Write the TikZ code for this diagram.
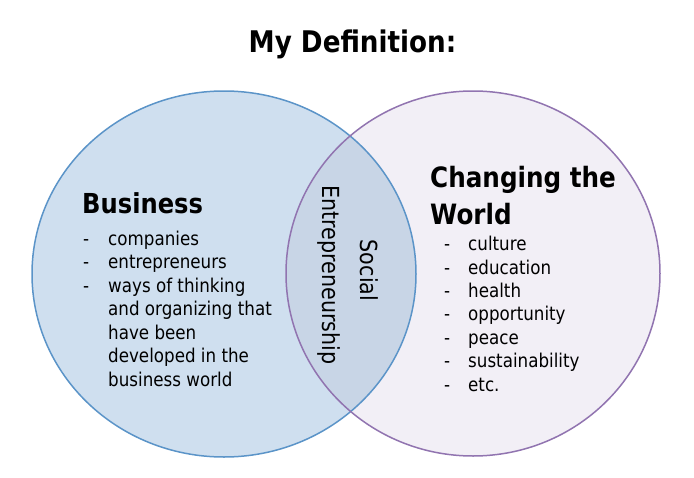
\documentclass[tikz,border=0pt]{standalone}
\usepackage{fontspec}
\setmainfont{DejaVu Sans}[FakeStretch=0.88]
\definecolor{leftfill}{RGB}{207,223,239}
\definecolor{leftdraw}{RGB}{91,148,200}
\definecolor{rightfill}{RGB}{242,239,246}
\definecolor{rightdraw}{RGB}{145,116,176}
\definecolor{lensfill}{RGB}{200,213,230}
\begin{document}
\begin{tikzpicture}[x=1pt,y=-1pt,
  txt/.style={anchor=base west, inner sep=0pt, font=\fontsize{19}{23}\selectfont},
  head/.style={anchor=base west, inner sep=0pt, font=\fontsize{28}{34}\selectfont\bfseries},
  rot/.style={anchor=base, inner sep=0pt, rotate=-90, font=\fontsize{23.5}{28}\selectfont}]
\useasboundingbox (0,0) rectangle (694,477);
% fills
\fill[leftfill] (224,274) ellipse [x radius=192, y radius=183];
\fill[rightfill] (473,273.5) ellipse [x radius=187, y radius=182.5];
\begin{scope}
  \clip (224,274) ellipse [x radius=192, y radius=183];
  \fill[lensfill] (473,273.5) ellipse [x radius=187, y radius=182.5];
\end{scope}
% outlines
\draw[leftdraw, line width=1.5pt] (224,274) ellipse [x radius=192, y radius=183];
\draw[rightdraw, line width=1.5pt] (473,273.5) ellipse [x radius=187, y radius=182.5];
% title
\node[anchor=base, inner sep=0pt, font=\fontsize{29.8}{36}\selectfont\bfseries] (title) at (352.5,52) {My Definition:};
% left
\node[head, font=\fontsize{27.5}{33}\selectfont\bfseries] (business) at (82,213) {Business};
\node[txt] (ld1) at (83,245) {-};
\node[txt] (lt1) at (108,245) {companies};
\node[txt] (ld2) at (83,268.5) {-};
\node[txt] (lt2) at (108,268.5) {entrepreneurs};
\node[txt] (ld3) at (83,292) {-};
\node[txt] (lt3) at (108,292) {ways of thinking};
\node[txt] (lt4) at (108,315.5) {and organizing that};
\node[txt] (lt5) at (108,339) {have been};
\node[txt] (lt6) at (108,362.5) {developed in the};
\node[txt] (lt7) at (108,386) {business world};
% right
\node[head] (changing) at (430,187) {Changing the};
\node[head] (world) at (430,224) {World};
\foreach \w [count=\i] in {culture,education,health,opportunity,peace,sustainability,etc.}{
  \node[txt] (rd\i) at (444,{250.7+23.4*(\i-1)}) {-};
  \node[txt] (rt\i) at (468,{250.7+23.4*(\i-1)}) {\w};
}
% center
\node[rot] (social) at (360,270.5) {Social};
\node[rot] (entre) at (322,275) {Entrepreneurship};
\end{tikzpicture}
\end{document}
